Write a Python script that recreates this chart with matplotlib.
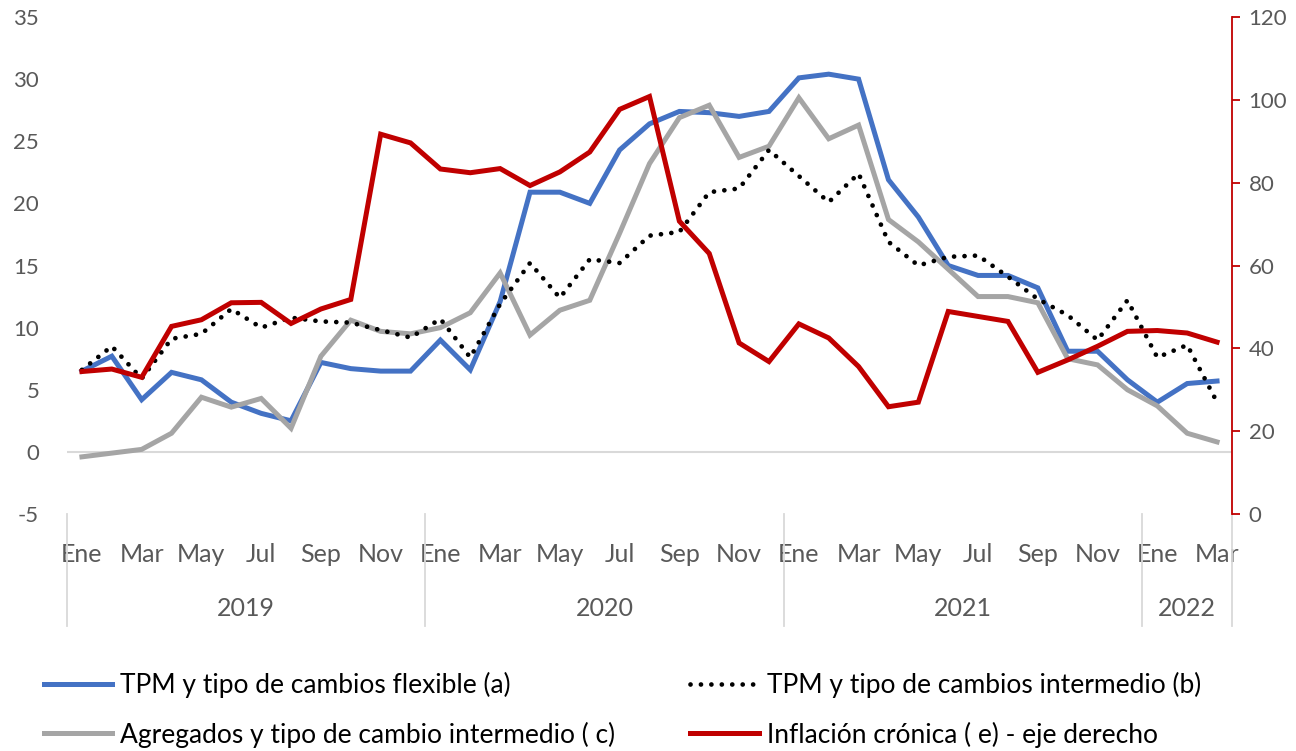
import numpy as np
import matplotlib
matplotlib.use('Agg')
import matplotlib.pyplot as plt
import matplotlib.transforms as mtransforms

plt.rcParams['font.family'] = ['Lato', 'DejaVu Sans']
plt.rcParams['axes.unicode_minus'] = False

'''data'''
months = ['Ene', 'Feb', 'Mar', 'Abr', 'May', 'Jun', 'Jul', 'Ago', 'Sep', 'Oct', 'Nov', 'Dic']
years = ['2019', '2020', '2021', '2022']
n_months = 39  # Ene 2019 .. Mar 2022

tpm_flexible = [6.5, 7.7, 4.2, 6.4, 5.8, 4.0, 3.1, 2.5, 7.2, 6.7, 6.5, 6.5,
                9.0, 6.6, 12.1, 20.9, 20.9, 20.0, 24.3, 26.4, 27.4, 27.3, 27.0, 27.4,
                30.1, 30.4, 30.0, 21.9, 18.9, 15.0, 14.2, 14.2, 13.2, 8.1, 8.1, 5.8,
                4.0, 5.5, 5.7]
tpm_intermedio = [6.6, 8.5, 5.9, 9.1, 9.5, 11.5, 10.0, 10.8, 10.5, 10.4, 9.8, 9.2,
                  10.7, 7.6, 11.9, 15.2, 12.4, 15.5, 15.2, 17.4, 17.7, 20.9, 21.2, 24.3,
                  22.2, 20.1, 22.4, 16.9, 15.0, 15.7, 15.8, 14.1, 12.3, 11.0, 9.0, 12.2,
                  7.6, 8.6, 4.0]
agregados = [-0.4, -0.1, 0.2, 1.5, 4.4, 3.6, 4.3, 1.9, 7.7, 10.6, 9.7, 9.5,
             10.0, 11.2, 14.4, 9.4, 11.4, 12.2, 17.6, 23.2, 26.9, 27.9, 23.7, 24.6,
             28.5, 25.2, 26.3, 18.7, 16.9, 14.7, 12.5, 12.5, 12.0, 7.5, 7.0, 5.0,
             3.7, 1.5, 0.8]
inflacion = [34.4, 35.0, 33.0, 45.3, 46.9, 51.0, 51.1, 46.0, 49.5, 51.8, 91.7, 89.6,
             83.3, 82.4, 83.4, 79.3, 82.6, 87.4, 97.7, 100.8, 70.7, 62.9, 41.3, 36.8,
             45.9, 42.5, 35.6, 25.9, 27.0, 48.9, 47.7, 46.5, 34.2, 37.2, 40.5, 44.1,
             44.3, 43.7, 41.5]

labels = ['TPM y tipo de cambios flexible (a)',
          'TPM y tipo de cambios intermedio (b)',
          'Agregados y tipo de cambio intermedio ( c)',
          'Inflación crónica ( e) - eje derecho']

x = np.arange(n_months)
txt = '#595959'

fig = plt.figure(figsize=(12.96, 7.51), dpi=100)
ax = fig.add_axes([67 / 1296, (751 - 514) / 751, (1232 - 67) / 1296, 497 / 751])
ax2 = ax.twinx()

ax.axhline(0, color='#d9d9d9', lw=1.5, zorder=0)
l_a, = ax.plot(x, tpm_flexible, color='#4472C4', lw=3.6, solid_joinstyle='miter', label=labels[0])
l_c, = ax.plot(x, agregados, color='#A5A5A5', lw=3.6, solid_joinstyle='miter', label=labels[2])
l_b, = ax.plot(x, tpm_intermedio, color='black', lw=3.4, linestyle=(0, (0.01, 2.2)),
               dash_capstyle='round', label=labels[1])
l_e, = ax2.plot(x, inflacion, color='#C00000', lw=3.6, solid_joinstyle='miter', label=labels[3])

ax.set_xlim(-0.5, 38.5)
ax.set_ylim(-5, 35)
ax.set_yticks(np.arange(-5, 36, 5))
ax2.set_ylim(0, 120)
ax2.set_yticks(np.arange(0, 121, 20))

for s in ['top', 'left', 'bottom', 'right']:
    ax.spines[s].set_visible(False)
    ax2.spines[s].set_visible(False)
ax2.spines['right'].set_visible(True)
ax2.spines['right'].set_color('#C00000')
ax2.spines['right'].set_linewidth(1.3)

ax.tick_params(axis='y', length=0, pad=20, labelsize=16, labelcolor=txt)
ax2.tick_params(axis='y', length=6, width=1.3, color='#C00000', pad=6, labelsize=16, labelcolor=txt)

# month labels every two months
tick_pos = x[::2]
tick_lab = [months[i % 12] for i in tick_pos]
ax.set_xticks(tick_pos)
ax.set_xticklabels(tick_lab)
ax.tick_params(axis='x', length=0, pad=21, labelsize=18, labelcolor=txt)

# year groups
trans = mtransforms.blended_transform_factory(ax.transData, ax.transAxes)
bounds = [-0.5, 11.5, 23.5, 35.5, 38.5]
for b in bounds:
    ax.plot([b, b], [0, -0.225], transform=trans, color='#d9d9d9', lw=1.3, clip_on=False)
for i, yr in enumerate(years):
    ax.text((bounds[i] + bounds[i + 1]) / 2, -0.19, yr, transform=trans,
            ha='center', va='center', fontsize=18, color=txt)

fig.legend([l_a, l_c, l_b, l_e], [labels[0], labels[2], labels[1], labels[3]],
           ncol=2, loc='center left', bbox_to_anchor=(20 / 1296, 0.055),
           frameon=False, fontsize=19, handlelength=2.6, handletextpad=0.3,
           columnspacing=2.83, labelspacing=0.9, labelcolor='black')

fig.savefig('out.png', dpi=100)
